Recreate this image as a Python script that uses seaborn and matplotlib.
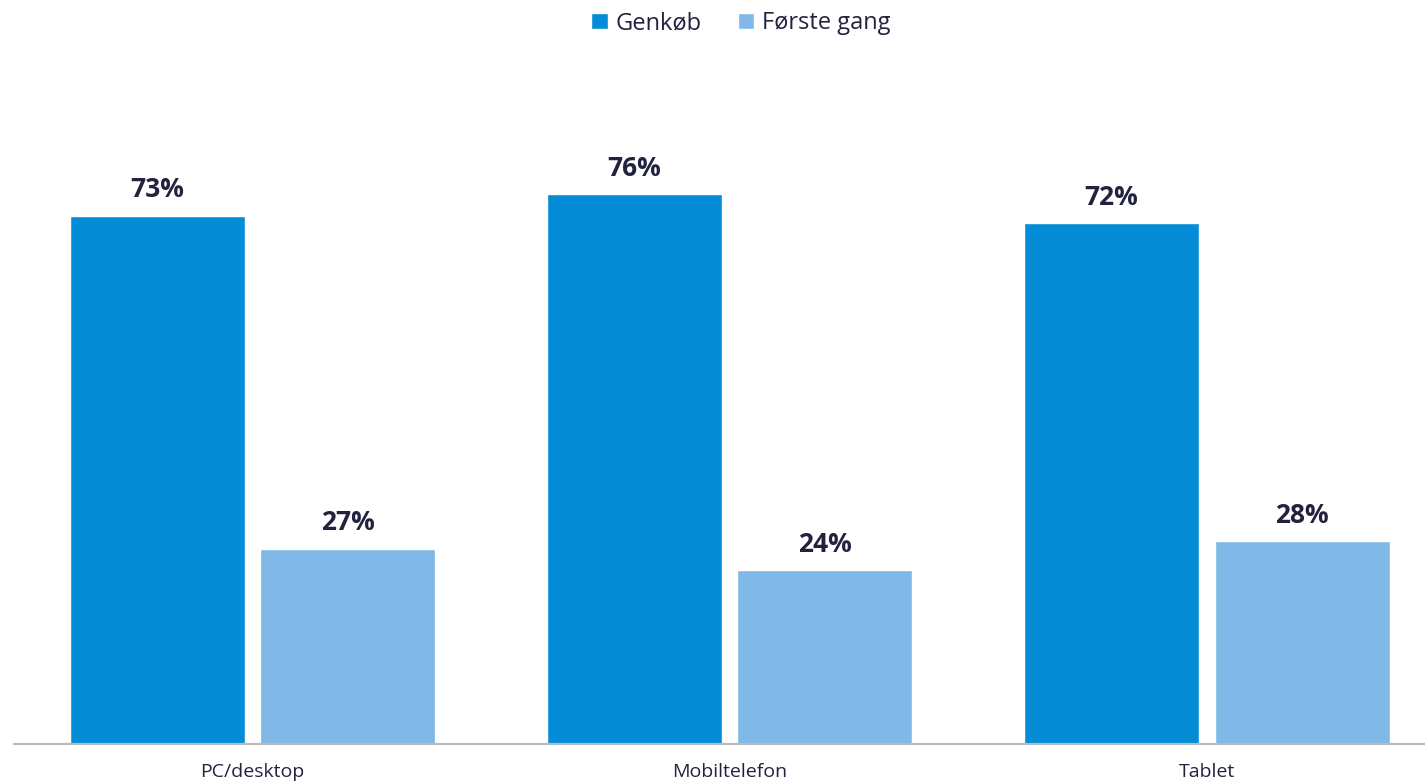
import matplotlib
matplotlib.use("Agg")
import matplotlib.pyplot as plt
import seaborn as sns
import pandas as pd
from matplotlib.patches import Patch

# data ---------------------------------------------------------------
devices = ["PC/desktop", "Mobiltelefon", "Tablet"]
series = ["Genkøb", "Første gang"]
genkob = [73, 76, 72]
forste_gang = [27, 24, 28]
colors = ["#058CD7", "#80B9E7"]

df = pd.DataFrame({
    "device": devices * 2,
    "serie": [series[0]] * 3 + [series[1]] * 3,
    "value": genkob + forste_gang,
})

sns.set_style("white")
plt.rcParams["font.family"] = ["Open Sans", "DejaVu Sans"]

fig = plt.figure(figsize=(14.25, 7.84), dpi=100)
ax = fig.add_axes([0.0098, 0.051, 1.0, 0.921])

sns.barplot(data=df, x="device", y="value", hue="serie", order=devices,
            hue_order=series, palette=colors, width=0.8, gap=0.083,
            saturation=1, legend=False, ax=ax)

for cont in ax.containers:
    ax.bar_label(cont, labels=[f"{v:.0f}%" for v in cont.datavalues],
                 padding=9, fontsize=19, fontweight="bold", color="#22223F")

ax.set_ylim(0, 99.8)
ax.set_xlim(-0.5, 2.487)
ax.set_xlabel("")
ax.set_ylabel("")
ax.set_yticks([])
ax.tick_params(axis="x", length=0, labelsize=14, labelcolor="#22223F", pad=14)
for s in ["top", "right", "left"]:
    ax.spines[s].set_visible(False)
ax.spines["bottom"].set_color("#BBBBBB")
ax.spines["bottom"].set_linewidth(1.6)

handles = [Patch(facecolor=c, label=l) for c, l in zip(colors, series)]
fig.legend(handles=handles, loc="upper center", bbox_to_anchor=(0.52, 1.013),
           ncol=2, frameon=False, fontsize=17, handlelength=0.7,
           handleheight=0.7, handletextpad=0.35, columnspacing=1.5,
           labelcolor="#22223F")

fig.savefig("out.png", dpi=100)
